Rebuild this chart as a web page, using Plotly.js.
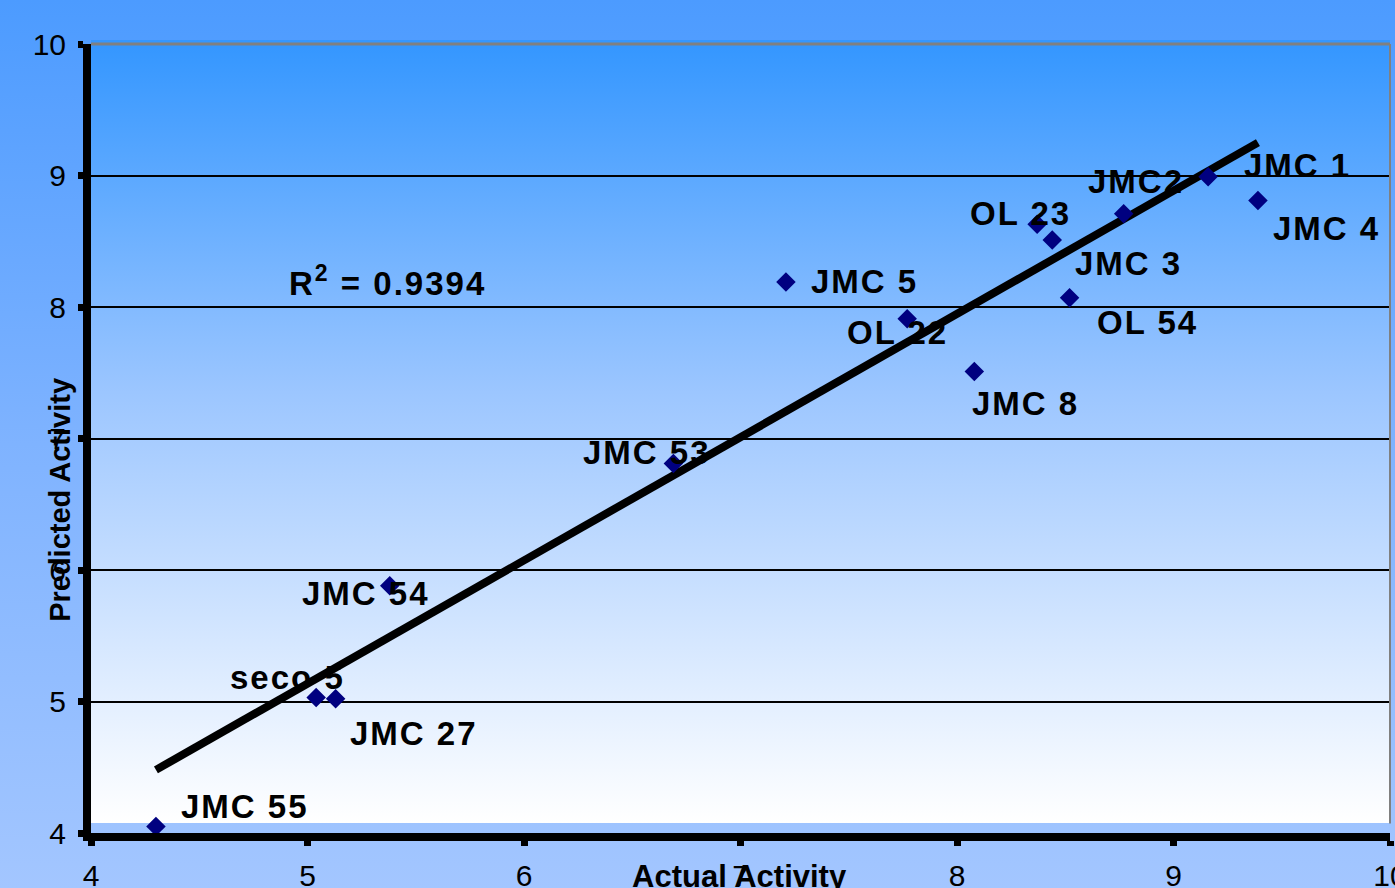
<!DOCTYPE html>
<html>
<head>
<meta charset="utf-8">
<script src="https://cdn.plot.ly/plotly-3.0.1.min.js"></script>
<style>
  html, body { margin: 0; padding: 0; }
  body {
    width: 1395px; height: 888px; overflow: hidden; position: relative;
    background: linear-gradient(to bottom, #4c9bff 0%, #7fb3ff 50%, #a3c6ff 100%);
  }
  #plotbg {
    position: absolute; left: 91px; top: 40px; width: 1299px; height: 783px;
    background: linear-gradient(to bottom, #3396ff 0%, #9cc6ff 45%, #ffffff 100%);
  }
  #chart { position: absolute; left: 0; top: 0; width: 1395px; height: 888px; }
</style>
</head>
<body>
<div id="plotbg"></div>
<div id="chart"></div>
<script>
// ---- data ----
const compounds = ["JMC 55", "seco 5", "JMC 27", "JMC 54", "JMC 53", "JMC 5", "OL 22",
                   "JMC 8", "OL 23", "JMC 3", "OL 54", "JMC2", "JMC 1", "JMC 4"];
const actual    = [4.30, 5.04, 5.13, 5.38, 6.69, 7.21, 7.77, 8.08, 8.37, 8.44, 8.52, 8.77, 9.16, 9.39];
const predicted = [4.05, 5.03, 5.02, 5.88, 6.81, 8.19, 7.91, 7.51, 8.63, 8.51, 8.07, 8.71, 8.99, 8.81];
const trendX = [4.30, 9.39];
const trendY = [4.48, 9.25];
const r2Text = "R<sup>2</sup> = 0.9394";
const tickVals = [4, 5, 6, 7, 8, 9, 10];

// ---- label placement (pixel offsets from each point) ----
const labelDX = [89, -29, 78, -24, -26, 79, -10, 51, -17, 76, 78, 12, 89, 69];
const labelDY = [20, 20, -35, -8, 11, 1, -14, -32, 11, -24, -25, 32, 11, -28];

const labelFont = { family: "Liberation Sans, Arial, sans-serif", size: 33, color: "#000000" };

const annotations = compounds.map((name, i) => ({
  x: actual[i], y: predicted[i], xref: "x", yref: "y",
  text: "<b>" + name + "</b>", showarrow: false,
  xshift: labelDX[i], yshift: labelDY[i],
  xanchor: "center", yanchor: "middle", font: labelFont
}));
annotations.push({
  x: 5.37, y: 8.20, xref: "x", yref: "y", text: "<b>" + r2Text + "</b>",
  showarrow: false, xanchor: "center", yanchor: "middle", font: labelFont
});
const nLabels = annotations.length;
annotations.push({
  x: -0.024, y: 0.422, xref: "paper", yref: "paper", text: "<b>Predicted Activity</b>",
  textangle: -90, showarrow: false, xanchor: "center", yanchor: "middle",
  font: { family: "Liberation Sans, Arial, sans-serif", size: 29, color: "#000000" }
});
annotations.push({
  x: 0.4996, y: -0.0545, xref: "paper", yref: "paper", text: "<b>Actual Activity</b>",
  showarrow: false, xanchor: "center", yanchor: "middle",
  font: { family: "Liberation Sans, Arial, sans-serif", size: 31, color: "#000000" }
});

const traces = [
  {
    x: trendX, y: trendY, mode: "lines", type: "scatter",
    line: { color: "#000000", width: 8 }, hoverinfo: "skip", showlegend: false
  },
  {
    x: actual, y: predicted, mode: "markers", type: "scatter",
    marker: { symbol: "diamond", size: 15, color: "#000080", line: { width: 0 } },
    showlegend: false, text: compounds
  }
];

const tickFont = { family: "Liberation Sans, Arial, sans-serif", size: 30, color: "#000000" };

const layout = {
  width: 1395, height: 888,
  margin: { l: 91, r: 5, t: 44, b: 55, pad: 0 },
  paper_bgcolor: "rgba(0,0,0,0)",
  plot_bgcolor: "rgba(0,0,0,0)",
  showlegend: false,
  xaxis: {
    range: [4, 10], tickvals: tickVals, ticktext: tickVals.map(String),
    showgrid: false, zeroline: false,
    showline: true, linecolor: "#000000", linewidth: 8,
    ticks: "outside", ticklen: 5, tickwidth: 7, tickcolor: "#000000",
    tickfont: tickFont, ticklabelstandoff: 4, ticklabeloverflow: "allow"
  },
  yaxis: {
    range: [4, 10], tickvals: tickVals, ticktext: tickVals.map(String),
    showgrid: true, gridcolor: "#000000", gridwidth: 2, zeroline: false,
    showline: true, linecolor: "#000000", linewidth: 8,
    ticks: "outside", ticklen: 5, tickwidth: 7, tickcolor: "#000000",
    tickfont: tickFont, ticklabelstandoff: 6, ticklabeloverflow: "allow"
  },
  shapes: [
    { type: "line", xref: "paper", yref: "paper", x0: 0, x1: 1, y0: 1, y1: 1,
      line: { color: "#808080", width: 3 }, layer: "above" },
    { type: "line", xref: "paper", yref: "paper", x0: 1, x1: 1, y0: 0.012, y1: 1,
      line: { color: "#808080", width: 2 }, layer: "above" }
  ],
  annotations: annotations
};

Plotly.newPlot("chart", traces, layout, { displayModeBar: false, staticPlot: true }).then(gd => {
  // the reference's data labels are drawn slightly wider than Arial: widen with letter spacing
  const texts = gd.querySelectorAll(".annotation");
  texts.forEach((g, i) => {
    if (i < nLabels) {
      const t = g.querySelector("text.annotation-text");
      if (t) t.style.letterSpacing = "2px";
    }
  });
});
</script>
</body>
</html>
